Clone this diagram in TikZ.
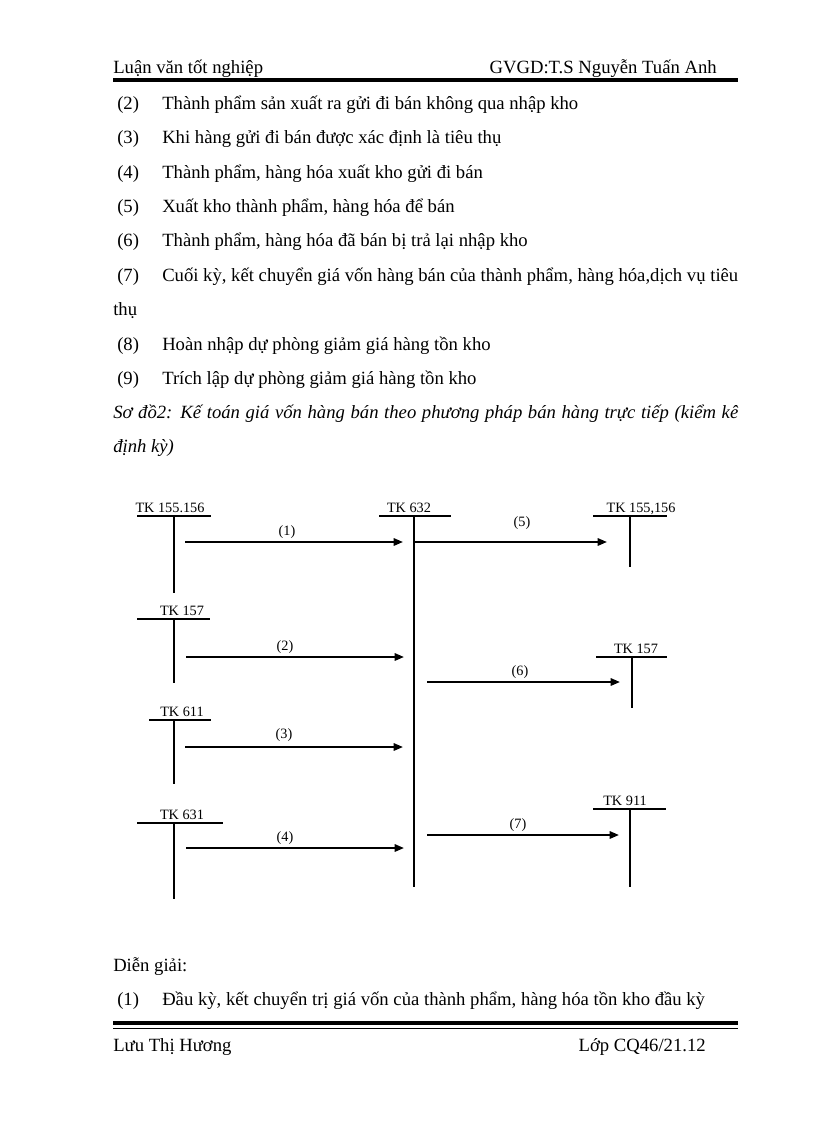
\documentclass[tikz,border=0pt]{standalone}
\usepackage{fontspec}
\setmainfont{Liberation Serif}
\usetikzlibrary{arrows.meta}
\begin{document}
\begin{tikzpicture}[x=0.75pt,y=-0.75pt,
  body/.style={anchor=base west,inner sep=0pt,font=\fontsize{14}{16}\selectfont},
  tkl/.style={anchor=base,inner sep=0pt,font=\fontsize{10.7}{12}\selectfont},
  num/.style={inner sep=0pt,font=\fontsize{10.7}{12}\selectfont},
  acc/.style={line width=1.1pt},
  flow/.style={line width=1.5pt,-{Triangle[length=7pt,width=5.5pt]}},
  rule/.style={line width=3pt}]
\useasboundingbox (0,0) rectangle (816,1123);
\fill[white] (0,0) rectangle (816,1123);
% header
\node[body] (h1) at (113,74) {Luận văn tốt nghiệp};
\node[body,anchor=base east] (h2) at (717,74) {GVGD:T.S Nguyễn Tuấn Anh};
\draw[rule] (113,80) -- (738,80);
% list
\node[body] (n2) at (117,110) {(2)};
\node[body] (t2) at (162,110) {Thành phẩm sản xuất ra gửi đi bán không qua nhập kho};
\node[body] (n3) at (117,144) {(3)};
\node[body] (t3) at (162,144) {Khi hàng gửi đi bán được xác định là tiêu thụ};
\node[body] (n4) at (117,179) {(4)};
\node[body] (t4) at (162,179) {Thành phẩm, hàng hóa xuất kho gửi đi bán};
\node[body] (n5) at (117,213) {(5)};
\node[body] (t5) at (162,213) {Xuất kho thành phẩm, hàng hóa để bán};
\node[body] (n6) at (117,247) {(6)};
\node[body] (t6) at (162,247) {Thành phẩm, hàng hóa đã bán bị trả lại nhập kho};
\node[body] (n7) at (117,281) {(7)};
\node[body] (t7) at (162,281) {\makebox[432pt][s]{Cuối kỳ, kết chuyển giá vốn hàng bán của thành phẩm, hàng hóa,dịch vụ tiêu}};
\node[body] (t7b) at (113,315) {thụ};
\node[body] (n8) at (117,350) {(8)};
\node[body] (t8) at (162,350) {Hoàn nhập dự phòng giảm giá hàng tồn kho};
\node[body] (n9) at (117,384) {(9)};
\node[body] (t9) at (162,384) {Trích lập dự phòng giảm giá hàng tồn kho};
\node[body] (s1) at (113,418) {\itshape\makebox[468.75pt][s]{Sơ đồ2: Kế toán giá vốn hàng bán theo phương pháp bán hàng trực tiếp (kiểm kê}};
\node[body] (s2) at (113,452) {\itshape định kỳ)};
% T accounts
\draw[acc] (137,516) coordinate (a1l) -- (211,516) coordinate (a1r);
\draw[acc] (174,516) coordinate (a1t) -- (174,593) coordinate (a1b);
\node[tkl] (l1) at (170,512) {TK 155.156};
\draw[acc] (379,516) coordinate (a2l) -- (451,516) coordinate (a2r);
\draw[acc] (414,516) coordinate (a2t) -- (414,887) coordinate (a2b);
\node[tkl] (l2) at (409,512) {TK 632};
\draw[acc] (593,516) coordinate (a3l) -- (667,516) coordinate (a3r);
\draw[acc] (630,516) coordinate (a3t) -- (630,567) coordinate (a3b);
\node[tkl] (l3) at (641,512) {TK 155,156};
\draw[acc] (137,619) coordinate (a4l) -- (210,619) coordinate (a4r);
\draw[acc] (174,619) coordinate (a4t) -- (174,683) coordinate (a4b);
\node[tkl] (l4) at (182,615) {TK 157};
\draw[acc] (596,657) coordinate (a5l) -- (667,657) coordinate (a5r);
\draw[acc] (632,657) coordinate (a5t) -- (632,708) coordinate (a5b);
\node[tkl] (l5) at (636,653) {TK 157};
\draw[acc] (149,720) coordinate (a6l) -- (211,720) coordinate (a6r);
\draw[acc] (174,720) coordinate (a6t) -- (174,784) coordinate (a6b);
\node[tkl] (l6) at (182,716) {TK 611};
\draw[acc] (137,823) coordinate (a7l) -- (223,823) coordinate (a7r);
\draw[acc] (174,823) coordinate (a7t) -- (174,899) coordinate (a7b);
\node[tkl] (l7) at (182,819) {TK 631};
\draw[acc] (593,809) coordinate (a8l) -- (666,809) coordinate (a8r);
\draw[acc] (630,809) coordinate (a8t) -- (630,887) coordinate (a8b);
\node[tkl] (l8) at (625,805) {TK 911};
% flows
\coordinate (f1s) at (185,542); \coordinate (f1e) at (403,542);
\draw[flow] (f1s) -- (f1e);
\node[num] (m1) at (287,532) {(1)};
\coordinate (f5s) at (414,542); \coordinate (f5e) at (607,542);
\draw[flow] (f5s) -- (f5e);
\node[num] (m5) at (522,523) {(5)};
\coordinate (f2s) at (186,657); \coordinate (f2e) at (404,657);
\draw[flow] (f2s) -- (f2e);
\node[num] (m2) at (285,647) {(2)};
\coordinate (f6s) at (427,682); \coordinate (f6e) at (620,682);
\draw[flow] (f6s) -- (f6e);
\node[num] (m6) at (520,672) {(6)};
\coordinate (f3s) at (185,747); \coordinate (f3e) at (403,747);
\draw[flow] (f3s) -- (f3e);
\node[num] (m3) at (284,735) {(3)};
\coordinate (f4s) at (186,848); \coordinate (f4e) at (404,848);
\draw[flow] (f4s) -- (f4e);
\node[num] (m4) at (285,838) {(4)};
\coordinate (f7s) at (427,835); \coordinate (f7e) at (619,835);
\draw[flow] (f7s) -- (f7e);
\node[num] (m7) at (518,825) {(7)};
% bottom text
\node[body] (d1) at (113,971) {Diễn giải:};
\node[body] (n1) at (117,1005) {(1)};
\node[body] (t1) at (162,1005) {Đầu kỳ, kết chuyển trị giá vốn của thành phẩm, hàng hóa tồn kho đầu kỳ};
% footer
\draw[rule] (113,1023) -- (738,1023);
\draw[line width=0.8pt] (113,1028.5) -- (738,1028.5);
\node[body] (fl) at (113,1051) {Lưu Thị Hương};
\node[body,anchor=base east] (fr) at (706,1051) {Lớp CQ46/21.12};
\end{tikzpicture}
\end{document}
